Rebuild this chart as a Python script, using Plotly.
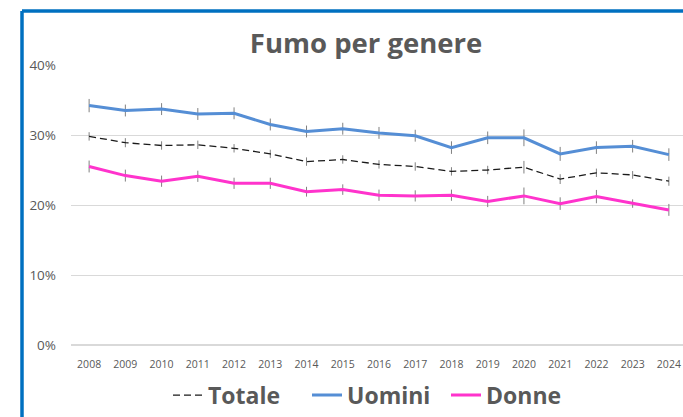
import plotly.graph_objects as go

years = list(range(2008, 2025))
totale = [29.8, 28.9, 28.5, 28.6, 28.1, 27.3, 26.2, 26.5, 25.8, 25.5, 24.8, 25.0, 25.4, 23.7, 24.6, 24.3, 23.4]
uomini = [34.2, 33.5, 33.7, 33.0, 33.1, 31.5, 30.5, 30.9, 30.3, 29.9, 28.2, 29.6, 29.6, 27.3, 28.2, 28.4, 27.2]
donne = [25.5, 24.2, 23.4, 24.1, 23.1, 23.1, 21.9, 22.2, 21.4, 21.3, 21.4, 20.5, 21.3, 20.2, 21.2, 20.2, 19.3]
err_totale = [0.6, 0.65, 0.6, 0.6, 0.6, 0.6, 0.6, 0.6, 0.6, 0.6, 0.6, 0.6, 0.9, 0.7, 0.6, 0.55, 0.65]
err_uomini = [0.95, 0.85, 0.85, 0.85, 0.85, 0.85, 0.85, 0.85, 0.85, 0.85, 0.9, 0.9, 1.2, 1.0, 0.9, 0.9, 0.9]
err_donne = [0.85, 0.85, 0.8, 0.8, 0.8, 0.8, 0.7, 0.75, 0.8, 0.8, 0.8, 0.8, 1.2, 0.9, 0.95, 0.6, 0.85]

def pct(v):
    return [x / 100 for x in v]

fig = go.Figure()
errstyle = dict(type="data", color="#808080", thickness=1, width=0)
fig.add_trace(go.Scatter(x=years, y=pct(totale), name="<b>Totale</b>", mode="lines",
                         line=dict(color="#1a1a1a", width=1.3, dash="7px,4px"),
                         error_y=dict(array=pct(err_totale), **errstyle)))
fig.add_trace(go.Scatter(x=years, y=pct(uomini), name="<b>Uomini</b>", mode="lines",
                         line=dict(color="#558ED5", width=3),
                         error_y=dict(array=pct(err_uomini), **errstyle)))
fig.add_trace(go.Scatter(x=years, y=pct(donne), name="<b>Donne</b>", mode="lines",
                         line=dict(color="#FF33CC", width=3),
                         error_y=dict(array=pct(err_donne), **errstyle)))

fig.update_layout(
    width=683, height=417,
    margin=dict(l=71, r=0, t=65, b=72),
    paper_bgcolor="white", plot_bgcolor="white",
    font=dict(family="Open Sans", color="#595959"),
    title=dict(text="<b>Fumo per genere</b>", x=0.536, xanchor="center", y=0.897, yanchor="middle",
               font=dict(size=27.5, color="#595959", family="Open Sans")),
    showlegend=True,
    legend=dict(orientation="h", x=(168 - 71) / 612, xanchor="left", y=-0.179, yanchor="middle",
                font=dict(size=23, color="#595959", family="Open Sans"),
                itemwidth=30, entrywidth=94, traceorder="normal"),
    xaxis=dict(range=[2007.5, 2024.39], tickvals=years, ticktext=[str(y) for y in years],
               showgrid=False, zeroline=False, showline=False, ticks="",
               tickfont=dict(size=10.5, color="#595959"), ticklabelstandoff=11),
    yaxis=dict(range=[0, 0.40], tickvals=[0, 0.1, 0.2, 0.3, 0.4], tickformat=".0%",
               showgrid=True, gridcolor="#D9D9D9", gridwidth=1, zeroline=True,
               zerolinecolor="#D9D9D9", zerolinewidth=1.5, showline=False, ticks="",
               tickfont=dict(size=13.5, color="#595959"), ticklabelstandoff=14),
)

# blue frame (top and left edges, the rest is cropped)
fy = (417 - 72 - 11) / 280
fx = (22 - 71) / 612
fig.add_shape(type="line", xref="paper", yref="paper", x0=fx, x1=1.1, y0=fy, y1=fy,
              line=dict(color="#0070C0", width=3.5))
fig.add_shape(type="line", xref="paper", yref="paper", x0=fx, x1=fx, y0=fy, y1=-0.4,
              line=dict(color="#0070C0", width=3.5))

fig.write_html("out.html", config={"displayModeBar": False},
               post_script="document.body.style.margin='0';document.body.style.overflow='hidden';")
